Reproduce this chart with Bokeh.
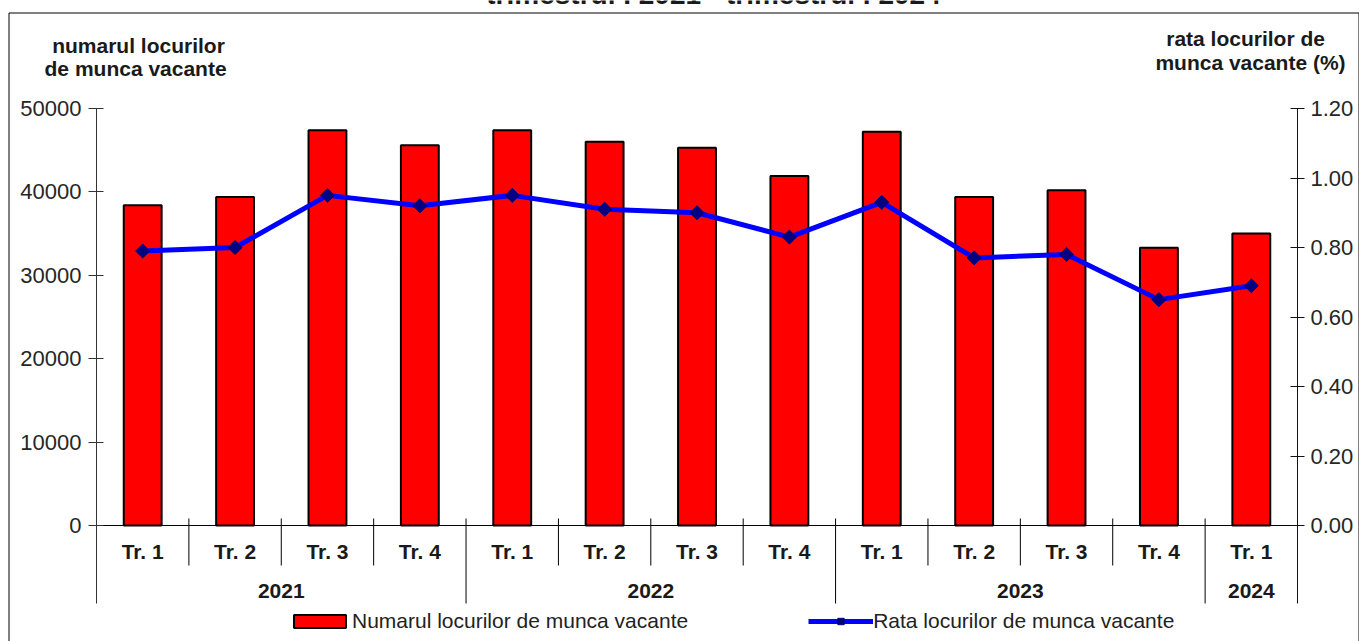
import numpy as np
from bokeh.plotting import figure
from bokeh.models import (Range1d, LinearAxis, FixedTicker, NumeralTickFormatter,
                          Legend, LegendItem)
from bokeh.core.properties import value
from bokeh.embed import file_html
from bokeh.resources import INLINE

# ---------------- data ----------------
quarters = ["Tr. 1", "Tr. 2", "Tr. 3", "Tr. 4",
            "Tr. 1", "Tr. 2", "Tr. 3", "Tr. 4",
            "Tr. 1", "Tr. 2", "Tr. 3", "Tr. 4",
            "Tr. 1"]
years = ["2021", "2022", "2023", "2024"]
year_quarter_counts = [4, 4, 4, 1]
vacancies = [38400, 39400, 47400, 45600, 47400, 46000, 45300, 41900,
             47200, 39400, 40200, 33300, 35000]
rate = [0.79, 0.80, 0.95, 0.92, 0.95, 0.91, 0.90, 0.83,
        0.93, 0.77, 0.78, 0.65, 0.69]
left_ticks = [0, 10000, 20000, 30000, 40000, 50000]
right_ticks = [0.0, 0.2, 0.4, 0.6, 0.8, 1.0, 1.2]

chart_title = "trimestrul I 2021 - trimestrul I 2024"
series_bar_label = "Numarul locurilor de munca vacante"
series_line_label = "Rata locurilor de munca vacante"
left_title = ["numarul locurilor", "de munca  vacante"]
right_title = ["rata locurilor  de", "munca vacante (%)"]

FONT = "Liberation Sans"
TXT = "#1a1a1a"

# ---------------- geometry (page pixels) ----------------
W, H = 1359, 641
n = len(quarters)
AX_LEFT_PX, AX_RIGHT_PX = 96, 1297
ZERO_PX, TOP_PX = 525, 108
Y_MAX, R_MAX = 50000, 1.2
CAT_PX = (AX_RIGHT_PX - AX_LEFT_PX) / n
UNIT_PX = (ZERO_PX - TOP_PX) / Y_MAX
R_UNIT_PX = (ZERO_PX - TOP_PX) / R_MAX
AXIS_BAND_PX = 78


def below(px, unit=UNIT_PX):
    return -px / unit


xs = np.arange(n) + 0.5

p = figure(width=W, height=H,
           x_range=Range1d(-AX_LEFT_PX / CAT_PX, (W - AX_LEFT_PX) / CAT_PX),
           y_range=Range1d(-(H - ZERO_PX) / UNIT_PX, ZERO_PX / UNIT_PX),
           x_axis_type=None, y_axis_type=None,
           output_backend="svg", toolbar_location=None,
           min_border=0, min_border_left=0, min_border_right=0,
           min_border_top=0, min_border_bottom=0)
p.border_fill_color = "white"
p.background_fill_color = "white"
p.outline_line_color = None

p.extra_y_ranges = {"rate": Range1d(-(H - ZERO_PX) / R_UNIT_PX, ZERO_PX / R_UNIT_PX),
                    "px": Range1d(H, 0)}
p.extra_x_ranges = {"px": Range1d(0, W)}

left_axis = LinearAxis(ticker=FixedTicker(ticks=left_ticks), fixed_location=0,
                       bounds=(below(AXIS_BAND_PX), Y_MAX),
                       major_tick_in=7, major_tick_out=8,
                       minor_tick_line_color=None,
                       axis_line_color="#333333", major_tick_line_color="#333333",
                       major_label_text_font=FONT, major_label_text_font_size="22px",
                       major_label_text_color="#262626", major_label_standoff=7)
p.add_layout(left_axis, "left")

right_axis = LinearAxis(y_range_name="rate", ticker=FixedTicker(ticks=right_ticks),
                        fixed_location=n,
                        bounds=(below(AXIS_BAND_PX, R_UNIT_PX), R_MAX),
                        formatter=NumeralTickFormatter(format="0.00"),
                        major_tick_in=7, major_tick_out=7,
                        minor_tick_line_color=None,
                        axis_line_color="#111111", major_tick_line_color="#111111",
                        major_label_text_font=FONT, major_label_text_font_size="22px",
                        major_label_text_color="#262626", major_label_standoff=6)
p.add_layout(right_axis, "right")

# outer frame of the chart box (page pixel coordinates)
p.segment(x0=[8.5, 8.5, 1358.5], y0=[12.5, 12.5, 12.5],
          x1=[1358.5, 8.5, 1358.5], y1=[12.5, H, H],
          x_range_name="px", y_range_name="px", line_color="black", line_width=1)

# cut-off main title above the box and the two axis titles
p.text(x=[713], y=[-6], text=[chart_title], x_range_name="px", y_range_name="px",
       text_align="center", text_baseline="alphabetic", text_font=value(FONT),
       text_font_style="bold", text_font_size="28px", text_color=TXT)
p.text(x=[138, 138], y=[45, 68], text=left_title, x_range_name="px", y_range_name="px",
       text_align="center", text_baseline="middle", text_font=value(FONT),
       text_font_style="bold", text_font_size="21px", text_color=TXT)
p.text(x=[1248, 1250], y=[38, 62], text=right_title, x_range_name="px", y_range_name="px",
       text_align="center", text_baseline="middle", text_font=value(FONT),
       text_font_style="bold", text_font_size="21px", text_color=TXT)

# bars
bars = p.vbar(x=xs, top=vacancies, bottom=0, width=0.41,
              fill_color="#FF0000", line_color="black", line_width=2)

# zero line
p.segment(x0=[0], y0=[0], x1=[n], y1=[0], line_color="black", line_width=1)

# rate line + markers
line_r = p.line(xs, rate, y_range_name="rate", line_color="#0000FF", line_width=5)
mark_r = p.scatter(xs, rate, y_range_name="rate", marker="square", angle=np.pi / 4,
                   size=10, fill_color="#000080", line_color="#000080")

# category separators
bounds = np.concatenate([[0], np.cumsum(year_quarter_counts)])
year_inner = [int(b) for b in bounds[1:-1]]
short_x = [b for b in range(1, n) if b not in year_inner]
sep_top = below(-7)
p.segment(x0=short_x, y0=sep_top, x1=short_x, y1=below(40),
          line_color="black", line_width=1)
p.segment(x0=year_inner, y0=sep_top, x1=year_inner, y1=below(AXIS_BAND_PX),
          line_color="black", line_width=1)

# category labels
p.text(x=xs, y=below(26), text=quarters, text_align="center", text_baseline="middle",
       text_font=value(FONT), text_font_style="bold", text_font_size="21px",
       text_color=TXT)
year_centers = [(bounds[i] + bounds[i + 1]) / 2 for i in range(len(years))]
p.text(x=year_centers, y=below(65), text=years, text_align="center",
       text_baseline="middle", text_font=value(FONT), text_font_style="bold",
       text_font_size="21px", text_color=TXT)

legend = Legend(items=[LegendItem(label=series_bar_label, renderers=[bars]),
                       LegendItem(label=series_line_label, renderers=[line_r, mark_r])],
                orientation="horizontal", location=(287, 8),
                glyph_width=65, glyph_height=16, label_standoff=0, spacing=120,
                padding=0, margin=0, border_line_color=None,
                background_fill_alpha=0,
                label_text_font=FONT, label_text_font_size="21px",
                label_text_color="#222222")
p.add_layout(legend)

open("out.html", "w").write(file_html(p, INLINE))
